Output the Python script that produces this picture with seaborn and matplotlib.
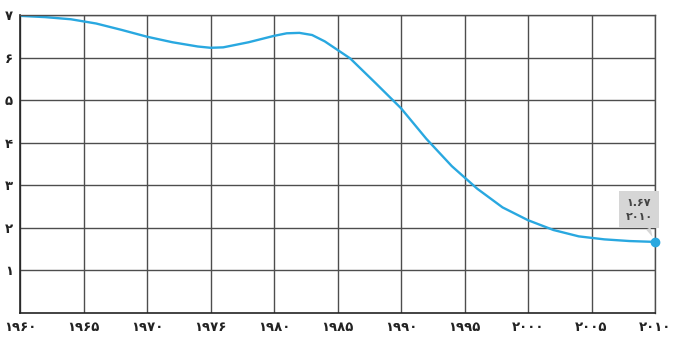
import pandas as pd
import matplotlib.pyplot as plt
import seaborn as sns

# values
years = [1960, 1962, 1964, 1966, 1968, 1970, 1972, 1974, 1975, 1976, 1978,
         1980, 1981, 1982, 1983, 1984, 1985, 1986, 1988, 1990, 1992, 1994,
         1996, 1998, 2000, 2002, 2004, 2006, 2008, 2010]
rate = [6.98, 6.95, 6.90, 6.80, 6.65, 6.49, 6.36, 6.26, 6.23, 6.24, 6.36,
        6.51, 6.57, 6.58, 6.53, 6.38, 6.18, 5.98, 5.40, 4.81, 4.09, 3.45,
        2.92, 2.48, 2.18, 1.95, 1.80, 1.73, 1.69, 1.67]

x_ticks = [1960, 1965, 1970, 1975, 1980, 1985, 1990, 1995, 2000, 2005, 2010]
x_labels = ['۱۹۶۰', '۱۹۶۵', '۱۹۷۰', '۱۹۷۶', '۱۹۸۰', '۱۹۸۵', '۱۹۹۰', '۱۹۹۵',
            '۲۰۰۰', '۲۰۰۵', '۲۰۱۰']
y_ticks = [1, 2, 3, 4, 5, 6, 7]
y_labels = ['۱', '۲', '۳', '۴', '۵', '۶', '۷']
last_label = '۱.۶۷\n۲۰۱۰'

df = pd.DataFrame({'year': years, 'rate': rate})

sns.set_style("white")
plt.rcParams['font.family'] = ['DejaVu Sans']

LINE = '#29a8e0'
GRID = '#4d4d4d'

fig = plt.figure(figsize=(6.75, 3.4), dpi=100)
ax = fig.add_axes([20 / 675, 1 - 313 / 340, 635 / 675, 298 / 340])

sns.lineplot(data=df, x='year', y='rate', color=LINE, linewidth=1.7, ax=ax)
ax.scatter([years[-1]], [rate[-1]], s=36, color=LINE, zorder=5, clip_on=False)

ax.set_xlim(1960, 2010)
ax.set_ylim(0, 7)
ax.set_xticks(x_ticks)
ax.set_xticklabels(x_labels)
ax.set_yticks(y_ticks)
ax.set_yticklabels(y_labels)
ax.tick_params(axis='both', length=0, labelsize=9.5, colors='#222222')
for lab in ax.get_xticklabels() + ax.get_yticklabels():
    lab.set_fontweight('bold')
ax.tick_params(axis='x', pad=6)
ax.tick_params(axis='y', pad=5)
ax.grid(True, color=GRID, linewidth=1.0)
for side in ['top', 'right']:
    ax.spines[side].set_color(GRID)
    ax.spines[side].set_linewidth(1.0)
for side in ['left', 'bottom']:
    ax.spines[side].set_color('#222222')
    ax.spines[side].set_linewidth(1.2)
ax.set_xlabel('')
ax.set_ylabel('')

ax.annotate(last_label, xy=(years[-1], rate[-1]), xytext=(-16, 32),
            textcoords='offset pixels', ha='center', va='center',
            fontsize=8, color='#444444', linespacing=1.6, fontweight='bold',
            bbox=dict(boxstyle='square,pad=0.55', fc='#d6d6d6', ec='none'),
            arrowprops=dict(arrowstyle='wedge,tail_width=0.45', fc='#d6d6d6',
                            ec='none', shrinkA=0, shrinkB=4))

fig.savefig('out.png', dpi=100)
